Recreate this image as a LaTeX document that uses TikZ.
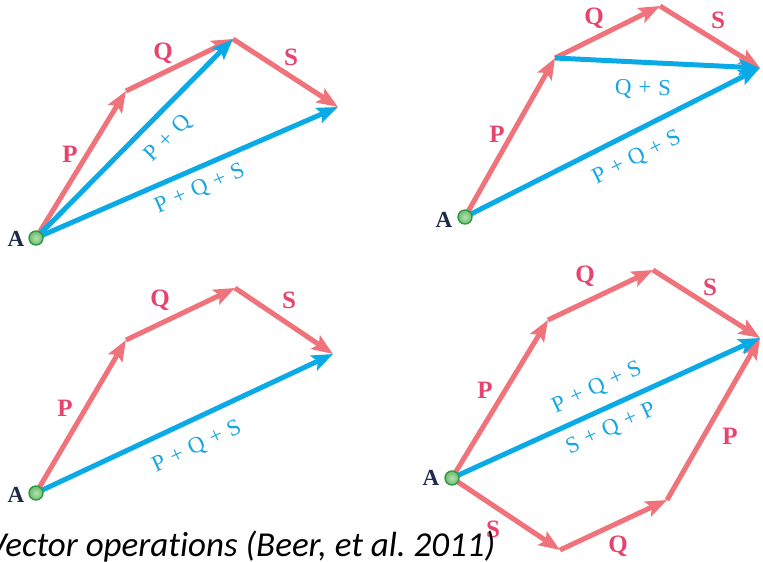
\documentclass[tikz,border=0pt]{standalone}
\usepackage{fontspec}
\setmainfont{Liberation Serif}
\newfontfamily\capfont[Ligatures=NoCommon]{Carlito}
\usetikzlibrary{arrows.meta}
\definecolor{redv}{HTML}{F0727A}
\definecolor{bluev}{HTML}{0AAAE6}
\definecolor{redlab}{HTML}{E8436C}
\definecolor{bluelab}{HTML}{18A6E2}
\definecolor{navy}{HTML}{1E2A4A}
\definecolor{ptgreen}{HTML}{7CD07A}
\definecolor{ptedge}{HTML}{2E9A46}
\newcommand{\vplus}{\hspace{0.3em}+\hspace{0.3em}}
\tikzset{
  vec/.style={line width=5pt, -{Stealth[length=21pt,width=16pt,inset=4pt]}},
  rvec/.style={vec, draw=redv},
  bvec/.style={vec, draw=bluev},
  rlab/.style={text=redlab, font=\bfseries\fontsize{25}{27}\selectfont, inner sep=0pt},
  blab/.style={text=bluelab, font=\fontsize{23}{25}\selectfont, inner sep=0pt},
  alab/.style={text=navy, font=\bfseries\fontsize{23}{25}\selectfont, inner sep=0pt},
  origin/.style={circle, minimum size=14pt, inner sep=0pt, draw=ptedge, line width=1.4pt, inner color=ptgreen!60!white, outer color=ptgreen!90!black},
  caption/.style={font=\capfont\itshape\fontsize{35}{38}\selectfont, text=black, inner sep=0pt, anchor=base west}
}
\begin{document}
\begin{tikzpicture}[x=1pt, y=-1pt]
\useasboundingbox (0,0) rectangle (763,562);
% ---------- panel 1 ----------
\coordinate (a1) at (36,238);
\coordinate (p1) at (126,91);
\coordinate (q1) at (233,39);
\coordinate (s1) at (338,107);
\draw[rvec] (a1) -- (p1);
\draw[rvec] (p1) -- (q1);
\draw[rvec] (q1) -- (s1);
\draw[bvec] (a1) -- (q1);
\draw[bvec] (a1) -- (s1);
\node[origin] (A1) at (a1) {};
\node[alab] (A1l) at (16,239) {A};
\node[rlab] (P1l) at (70,154) {P};
\node[rlab] (Q1l) at (163,53) {Q};
\node[rlab] (S1l) at (291,57) {S};
\node[blab, rotate=45] (PQ1l) at (168,139) {P\vplus Q};
\node[blab, rotate=23.5] (PQS1l) at (200,189) {P\vplus Q\vplus S};
% ---------- panel 2 ----------
\coordinate (a2) at (465,217);
\coordinate (p2) at (555,58);
\coordinate (q2) at (660,6);
\coordinate (s2) at (760,68);
\draw[rvec] (a2) -- (p2);
\draw[rvec] (p2) -- (q2);
\draw[rvec] (q2) -- (s2);
\draw[bvec] (p2) -- (s2);
\draw[bvec] (a2) -- (s2);
\node[origin] (A2) at (a2) {};
\node[alab] (A2l) at (444,220) {A};
\node[rlab] (P2l) at (497,134) {P};
\node[rlab] (Q2l) at (594,18) {Q};
\node[rlab] (S2l) at (718,20) {S};
\node[blab, rotate=-1] (QS2l) at (643,89) {Q\vplus S};
\node[blab, rotate=26.5] (PQS2l) at (637,158) {P\vplus Q\vplus S};
% ---------- panel 3 ----------
\coordinate (a3) at (36,493);
\coordinate (p3) at (126,340);
\coordinate (q3) at (235,288);
\coordinate (s3) at (333,354);
\draw[rvec] (a3) -- (p3);
\draw[rvec] (p3) -- (q3);
\draw[rvec] (q3) -- (s3);
\draw[bvec] (a3) -- (s3);
\node[origin] (A3) at (a3) {};
\node[alab] (A3l) at (16,495) {A};
\node[rlab] (P3l) at (65,408) {P};
\node[rlab] (Q3l) at (160,300) {Q};
\node[rlab] (S3l) at (289,300) {S};
\node[blab, rotate=25] (PQS3l) at (197,447) {P\vplus Q\vplus S};
% ---------- panel 4 ----------
\coordinate (a4) at (452,478);
\coordinate (p4) at (548,320);
\coordinate (q4) at (653,270);
\coordinate (s4) at (760,338);
\coordinate (s4b) at (560,550);
\coordinate (q4b) at (667,500);
\draw[rvec] (a4) -- (p4);
\draw[rvec] (p4) -- (q4);
\draw[rvec] (q4) -- (s4);
\draw[rvec] (a4) -- (s4b);
\draw[rvec] (s4b) -- (q4b);
\draw[rvec] (q4b) -- (s4);
\draw[bvec] (a4) -- (s4);
\node[origin] (A4) at (a4) {};
\node[alab] (A4l) at (431,478) {A};
\node[rlab] (P4l) at (485,390) {P};
\node[rlab] (Q4l) at (585,276) {Q};
\node[rlab] (S4l) at (710,287) {S};
\node[blab, rotate=24.5] (PQS4l) at (597,388) {P\vplus Q\vplus S};
\node[blab, rotate=24.5] (SQP4l) at (611,429) {S\vplus Q\vplus P};
\node[rlab] (P4bl) at (730,436) {P};
\node[rlab] (S4bl) at (493,529) {S};
\node[rlab] (Q4bl) at (618,546) {Q};
% ---------- caption ----------
\node[caption] (cap) at (-13,556) {Vector operations (Beer, et al.\ 2011)};
\end{tikzpicture}
\end{document}
